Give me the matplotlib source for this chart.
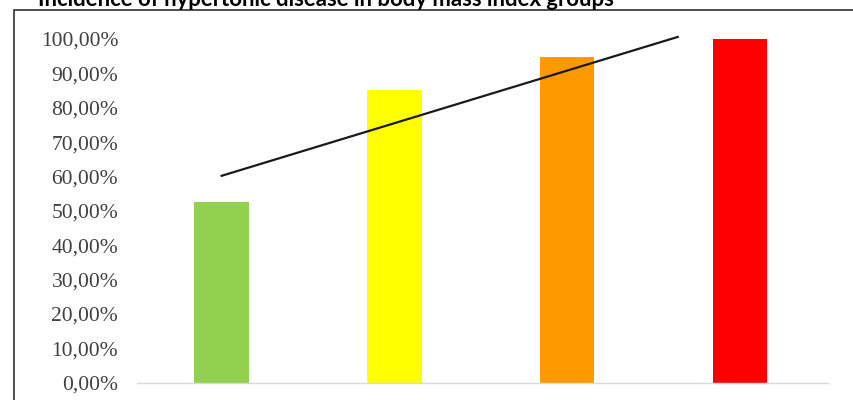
import matplotlib
matplotlib.use("Agg")
import matplotlib.pyplot as plt
from matplotlib.patches import Rectangle
from matplotlib.ticker import FuncFormatter

# values
groups = ["normal", "overweight", "obesity I", "obesity II+"]
incidence = [52.6, 85.2, 94.8, 100.0]
bar_colors = ["#92d050", "#ffff00", "#ff9900", "#ff0000"]
trend_x = [0.0, 2.64]
trend_y = [60.2, 100.6]
yticks = [0, 10, 20, 30, 40, 50, 60, 70, 80, 90, 100]

fig = plt.figure(figsize=(8.54, 4.0), dpi=100, facecolor="white")

# outer frame, cut by the image edges
fig.patches.append(Rectangle((14 / 854, -0.1), 1.0, 1.1 - 10 / 400,
                             transform=fig.transFigure, fill=False,
                             edgecolor="#404040", linewidth=1.3))

# title is cut by the top edge, as in the source
fig.text(38 / 854, 1 - 6 / 400, "Incidence of hypertonic disease in body mass index groups",
         fontsize=15.9, fontweight="bold", family="Lato", va="baseline", ha="left")

ax = fig.add_axes([137 / 854, 17.3 / 400, 691 / 854, 343.7 / 400])
x = list(range(len(groups)))
ax.bar(x, incidence, width=0.316, color=bar_colors, zorder=2)
ax.plot(trend_x, trend_y, color="#1a1a1a", lw=1.6, clip_on=False, zorder=3)

ax.set_xlim(-0.49, 3.51)
ax.set_ylim(0, 100)
ax.set_xticks([])
ax.set_yticks(yticks)
ax.yaxis.set_major_formatter(FuncFormatter(lambda v, p: f"{v:.2f}".replace(".", ",") + "%"))
ax.tick_params(axis="y", length=0, pad=13.5, labelsize=15.5, labelcolor="#404040")
for lab in ax.get_yticklabels():
    lab.set_family("Liberation Serif")

for s in ["top", "right", "left"]:
    ax.spines[s].set_visible(False)
ax.spines["bottom"].set_color("#d9d9d9")
ax.spines["bottom"].set_linewidth(1.0)
ax.patch.set_alpha(0)

fig.savefig("out.png", dpi=100)
